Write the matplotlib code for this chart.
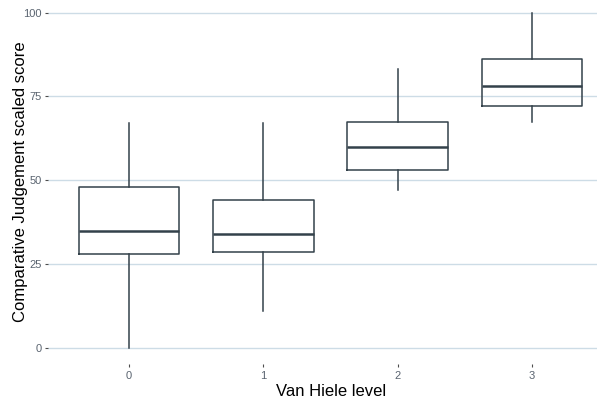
import matplotlib
matplotlib.use("Agg")
import matplotlib.pyplot as plt

# Datos (cuartiles y bigotes por nivel Van Hiele)
niveles = ["0", "1", "2", "3"]
q1 = [27.8, 28.4, 53.1, 72.0]
mediana = [34.9, 34.0, 60.0, 78.2]
q3 = [48.0, 43.9, 67.2, 86.0]
bigote_bajo = [0.0, 11.0, 47.0, 67.2]
bigote_alto = [67.1, 67.1, 83.1, 100.0]
y_ticks = [0, 25, 50, 75, 100]

plt.rcParams['font.family'] = ['Liberation Sans', 'DejaVu Sans']

fig = plt.figure(figsize=(5.97, 4.01), dpi=100)
W, H = 597, 401
# panel en pixeles: x=0 en 129 px, paso 134.33 px; y=0 en 347.5 px, 3.35 px por unidad
px_x = 134.33
x0 = 129
left_px = x0 - 0.6 * px_x
width_px = 4.2 * px_x
bottom_px = 347.5 + 5 * 3.35
height_px = 110 * 3.35
ax = fig.add_axes([left_px / W, (H - bottom_px) / H, width_px / W, height_px / H])

stats = []
for i in range(len(niveles)):
    stats.append({
        "med": mediana[i], "q1": q1[i], "q3": q3[i],
        "whislo": bigote_bajo[i], "whishi": bigote_alto[i],
        "fliers": [], "label": niveles[i],
    })

color_caja = "#33414a"
ax.bxp(stats, positions=range(len(niveles)), widths=0.75, showcaps=False,
       boxprops=dict(color=color_caja, linewidth=1.1),
       whiskerprops=dict(color=color_caja, linewidth=1.1),
       medianprops=dict(color=color_caja, linewidth=1.8),
       zorder=3)

ax.set_xlim(-0.6, 3.6)
ax.set_ylim(-5, 105)
ax.set_yticks(y_ticks)
ax.set_xticks(range(len(niveles)))
ax.set_xticklabels(niveles)

for s in ax.spines.values():
    s.set_visible(False)
ax.grid(axis="y", color="#cddce6", linewidth=1.0, zorder=0)
ax.set_axisbelow(True)

ax.tick_params(axis="both", colors="#4d4d4d", labelsize=8, length=2.5, width=0.8, pad=2.5)
ax.tick_params(axis="x", labelcolor="#5a6470")
ax.tick_params(axis="y", labelcolor="#5a6470")

# titulos de ejes colocados a mano para coincidir con la imagen
fig.text(331 / W, 1 - 396 / H, "Van Hiele level", fontsize=12, color="black",
         ha="center", va="baseline")
fig.text(20.5 / W, 1 - 181.5 / H, "Comparative Judgement scaled score", fontsize=12,
         color="black", ha="center", va="center", rotation=90)

fig.savefig("out.png", dpi=100)
